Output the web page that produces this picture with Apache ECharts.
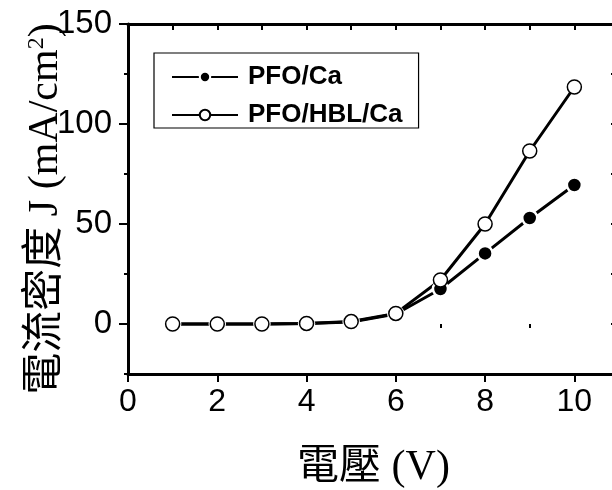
<!DOCTYPE html>
<html>
<head>
<meta charset="utf-8">
<script src="https://cdn.jsdelivr.net/npm/echarts@6/dist/echarts.min.js"></script>
<style>html,body{margin:0;padding:0;background:#fff}#c{width:612px;height:490px}</style>
</head>
<body>
<div id="c"></div>
<script>
const voltages = [1, 2, 3, 4, 5, 6, 7, 8, 9, 10];
const pfoCa = [0, 0, 0, 0.2, 1, 5, 17.5, 35.3, 53, 69.5];
const pfoHblCa = [0, 0, 0, 0.3, 1.2, 5.3, 22, 50, 86.5, 118.5];
const seriesNames = ['PFO/Ca', 'PFO/HBL/Ca'];
const xMajorTicks = [0, 2, 4, 6, 8, 10];
const xMinorTicks = [1, 3, 5, 7, 9];
const yMajorTicks = [0, 50, 100, 150];
const yMinorTicks = [-25, 25, 75, 125];
const xTitle = '電壓 (V)';
const yTitleMain = '電流密度 J (mA/cm';

const chart = echarts.init(document.getElementById('c'), null, {renderer: 'canvas'});
const serifCJK = "'Liberation Serif', 'Noto Sans CJK TC', serif";
const sans = "'Liberation Sans', Arial, sans-serif";
const line = {lineStyle: {color: '#000', width: 3}};

function pairs(vals) { return voltages.map((v, i) => [v, vals[i]]); }

chart.setOption({
  animation: false,
  backgroundColor: '#fff',
  grid: {left: 128, right: -7, top: 24, bottom: 116, outerBoundsMode: 'none', containLabel: false},
  legend: {
    orient: 'vertical', left: 154, top: 53,
    padding: [11, 16, 0, 17], itemGap: 12,
    itemWidth: 66, itemHeight: 13,
    borderColor: '#000', borderWidth: 1.2,
    textStyle: {fontFamily: sans, fontSize: 26, fontWeight: 'bold', color: '#000', padding: [0, 0, 0, 5]},
    data: seriesNames
  },
  xAxis: [
    {
      type: 'value', position: 'bottom', min: 0, max: 11, interval: 1,
      axisLine: {onZero: false, ...line},
      axisTick: {show: true, inside: false, length: 8, lineStyle: {color: '#000', width: 2}, customValues: xMajorTicks},
      axisLabel: {customValues: xMajorTicks, fontFamily: sans, fontSize: 32, color: '#000', margin: 12},
      splitLine: {show: false},
      name: xTitle, nameLocation: 'middle', nameGap: 73, nameMoveOverlap: false,
      nameTextStyle: {fontFamily: serifCJK, fontSize: 42, color: '#000'}
    },
    {
      type: 'value', position: 'bottom', min: 0, max: 11, interval: 1,
      axisLine: {show: false},
      axisTick: {show: true, inside: false, length: 4, lineStyle: {color: '#000', width: 2}, customValues: xMinorTicks},
      axisLabel: {show: false}, splitLine: {show: false}
    },
    {
      type: 'value', position: 'top', min: 0, max: 11, interval: 1,
      axisLine: {onZero: false, ...line},
      axisTick: {show: true, inside: true, length: 6, lineStyle: {color: '#000', width: 2}},
      axisLabel: {show: false}, splitLine: {show: false}
    }
  ],
  yAxis: [
    {
      type: 'value', position: 'left', min: -25, max: 150, interval: 25,
      axisLine: {onZero: false, ...line},
      axisTick: {show: true, inside: false, length: 9, lineStyle: {color: '#000', width: 2}, customValues: yMajorTicks},
      axisLabel: {customValues: yMajorTicks, fontFamily: sans, fontSize: 33, color: '#000', margin: 16},
      splitLine: {show: false},
      name: '{a|' + yTitleMain + '}{s|2}{p|)}',
      nameLocation: 'middle', nameGap: 61, nameRotate: 90, nameMoveOverlap: false,
      nameTextStyle: {
        rich: {
          a: {fontFamily: serifCJK, fontSize: 42, color: '#000'},
          s: {fontFamily: serifCJK, fontSize: 24, color: '#000', verticalAlign: 'top', padding: [0, 0, 16, 0]},
          p: {fontFamily: serifCJK, fontSize: 42, color: '#000', padding: [0, 20, 0, 0]}
        }
      }
    },
    {
      type: 'value', position: 'left', min: -25, max: 150, interval: 25,
      axisLine: {show: false},
      axisTick: {show: true, inside: false, length: 4, lineStyle: {color: '#000', width: 2}, customValues: yMinorTicks},
      axisLabel: {show: false}, splitLine: {show: false}
    },
    {
      type: 'value', position: 'right', min: -25, max: 150, interval: 25,
      axisLine: {onZero: false, ...line},
      axisTick: {show: true, inside: true, length: 8, lineStyle: {color: '#000', width: 2}},
      axisLabel: {show: false}, splitLine: {show: false}
    }
  ],
  series: [
    {
      name: seriesNames[0], type: 'line', data: pairs(pfoCa),
      symbol: 'circle', symbolSize: 15,
      lineStyle: {color: '#000', width: 3},
      itemStyle: {color: '#000', borderColor: '#fff', borderWidth: 2.5}
    },
    {
      name: seriesNames[1], type: 'line', data: pairs(pfoHblCa),
      symbol: 'circle', symbolSize: 14,
      lineStyle: {color: '#000', width: 3},
      itemStyle: {color: '#fff', borderColor: '#000', borderWidth: 1.5}
    }
  ]
});
</script>
</body>
</html>
